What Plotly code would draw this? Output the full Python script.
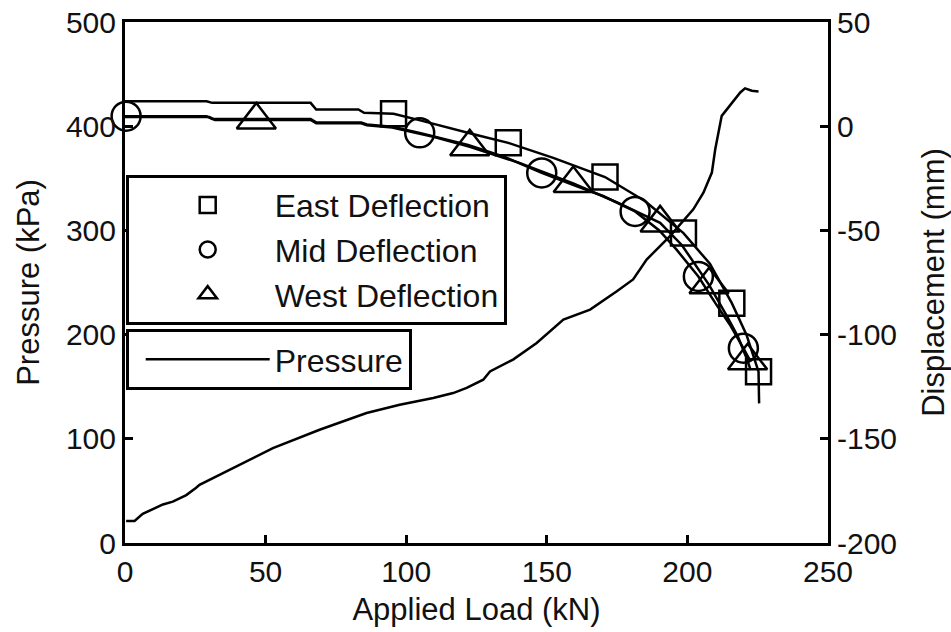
import plotly.graph_objs as go

# Applied load (kN) vs pressure (kPa)
pressure_load = [0.4, 3.4, 6.3, 13.5, 17, 21.8, 25.3, 26.5, 38.4, 52.6, 69.2, 85.9, 97.7, 109.6,
                 116.7, 121.5, 127.4, 129.8, 138, 146.4, 155.9, 165.4, 174.9, 180.7, 185.5, 193.8,
                 202.1, 205.7, 208.7, 209.9, 212.2, 218.8, 220.5, 222.9, 225.3]
pressure_kpa = [21.2, 21.2, 28, 37, 39.7, 46, 53, 55.8, 71.8, 91, 108.7, 124.7, 132.7, 139.1,
                143.9, 148.8, 156.7, 164.7, 176, 192, 214.4, 224, 241.6, 252.9, 272, 294.5,
                320.2, 336.2, 355.5, 377.9, 409.9, 432.4, 436.3, 434, 433.4]

# deflection lines (mm)
east_load = [0, 29, 31, 66, 68, 83, 85, 95.5, 105, 115, 125, 136.3, 152.3, 170.7, 185, 198.6,
             208, 215.8, 221, 225.3, 225.5]
east_def = [12, 12, 11.2, 11.2, 8, 8, 6.4, 6, 2.8, -0.8, -4.2, -8, -15.2, -24.4, -36, -51.3,
            -66, -84.9, -100, -117.8, -133]
mid_load = [0, 29, 31, 66, 68, 84, 86, 95, 104.8, 115, 122, 135, 148.2, 160, 170, 181.4, 190,
            196, 203.9, 210, 215, 219.9, 222.5]
mid_def = [4.8, 4.8, 3.4, 3.4, 1.8, 1.8, 0.8, -0.2, -3.2, -6.5, -9, -14.8, -22.4, -28.5, -33.5,
           -40.9, -50, -59, -72.1, -85, -95, -106.5, -113]
west_load = [0, 30, 32, 66, 68, 84, 86, 95, 110, 122.6, 140, 159.4, 175, 190.3, 198, 203,
             207.7, 214, 218, 221.4, 222.5]
west_def = [4.4, 4.4, 3.0, 3.0, 1.4, 1.4, 0.4, -0.6, -5.2, -9.9, -17.5, -27.5, -36.5, -46.4,
            -57, -67, -76.1, -91, -101, -112.6, -117]

# marker samples
east_mk_load = [95.5, 136.3, 170.7, 198.6, 215.8, 225.3]
east_mk_def = [6, -8, -24.4, -51.3, -84.9, -117.8]
mid_mk_load = [0.4, 104.8, 148.2, 181.4, 203.9, 219.9]
mid_mk_def = [4.8, -3.2, -22.4, -40.9, -72.1, -106.5]
west_mk_load = [46.7, 122.6, 159.4, 190.3, 207.7, 221.4]
west_mk_def = [3.0, -9.9, -27.5, -46.4, -76.1, -112.6]

# right axis ticks (plain hyphen minus like the original)
disp_ticks = [50, 0, -50, -100, -150, -200]
disp_ticktext = ["50", "0", "-50", "-100", "-150", "-200"]

FONT = "Liberation Sans, Arial, sans-serif"

fig = go.Figure()

series = [
    ("East Deflection", east_load, east_def, east_mk_load, east_mk_def, "square-open", 25),
    ("Mid Deflection", mid_load, mid_def, mid_mk_load, mid_mk_def, "circle-open", 29),
    ("West Deflection", west_load, west_def, west_mk_load, west_mk_def, "triangle-up-open", 34),
]
for name, lx, ly, mx, my, sym, size in series:
    fig.add_trace(go.Scatter(x=lx, y=ly, yaxis="y2", mode="lines", showlegend=False,
                             line=dict(color="black", width=2.5)))
for name, lx, ly, mx, my, sym, size in series:
    fig.add_trace(go.Scatter(x=mx, y=my, yaxis="y2", mode="markers", name=name, legend="legend",
                             cliponaxis=False,
                             marker=dict(symbol=sym, size=size, color="black",
                                         line=dict(color="black", width=2.5))))

fig.add_trace(go.Scatter(x=pressure_load, y=pressure_kpa, mode="lines", name="Pressure",
                         legend="legend2", line=dict(color="black", width=2.5)))

axis_common = dict(showgrid=False, zeroline=False, showline=True, linecolor="black", linewidth=3,
                   ticks="inside", ticklen=8, tickwidth=2.5, tickcolor="black", automargin=False,
                   tickfont=dict(family=FONT, size=30, color="#111"))

fig.update_layout(
    width=951, height=632,
    margin=dict(l=125, r=123, t=22, b=89),
    paper_bgcolor="white", plot_bgcolor="white",
    font=dict(family=FONT, color="#111"),
    xaxis=dict(range=[0, 250], dtick=50, mirror=True,
               title=dict(text="Applied Load (kN)", font=dict(size=31), standoff=12),
               **axis_common),
    yaxis=dict(range=[0, 500], dtick=100,
               title=dict(text="Pressure (kPa)", font=dict(size=31), standoff=18),
               **axis_common),
    yaxis2=dict(range=[-200, 50], tickvals=disp_ticks, ticktext=disp_ticktext,
                overlaying="y", side="right",
                title=dict(text="Displacement (mm)", font=dict(size=31), standoff=28),
                **axis_common),
    legend=dict(x=0.001, y=0.707, xanchor="left", yanchor="top", bgcolor="white",
                bordercolor="black", borderwidth=3, itemwidth=124, indentation=12,
                font=dict(family=FONT, size=32, color="#111"), traceorder="normal"),
    legend2=dict(x=0.001, y=0.411, xanchor="left", yanchor="top", bgcolor="white",
                 bordercolor="black", borderwidth=3, itemwidth=124, indentation=12,
                 font=dict(family=FONT, size=32, color="#111")),
)

# page body has a default 8px margin; drop it so the figure sits at the window corner
fig.write_html("out.html", config={"displayModeBar": False},
               post_script="document.body.style.margin='0';")
